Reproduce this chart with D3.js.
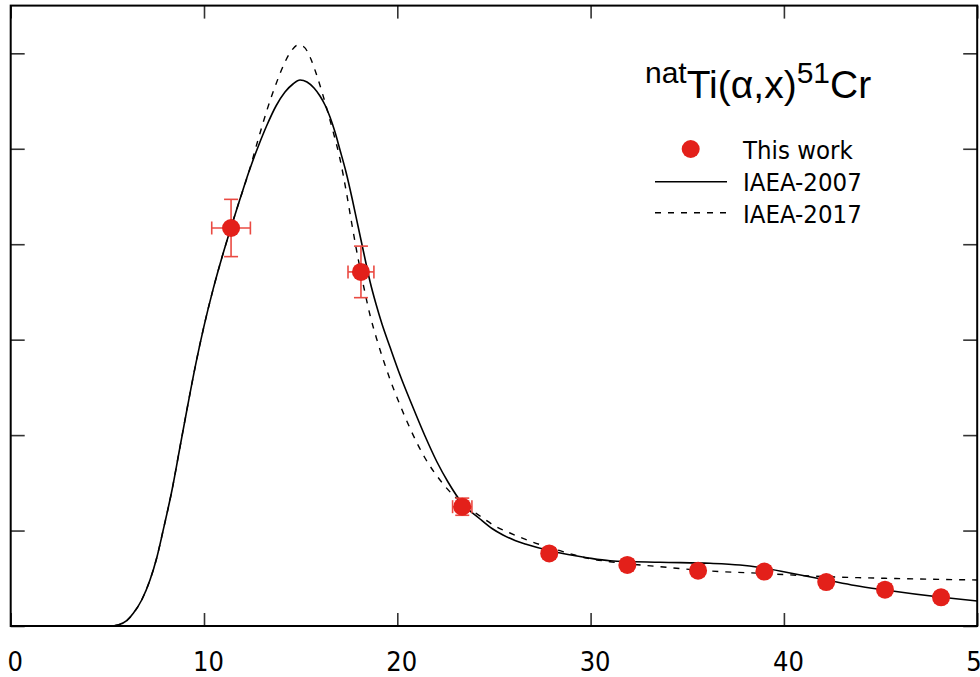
<!DOCTYPE html>
<html>
<head>
<meta charset="utf-8">
<script src="https://cdn.jsdelivr.net/npm/d3@7"></script>
<style>
  html, body { margin: 0; padding: 0; background: #fff; }
  svg { display: block; }
</style>
</head>
<body>
<svg id="chart" width="980" height="677"></svg>
<script>
// Measured excitation function, natTi(α,x)51Cr
const energy    = [11.40, 18.12, 23.36, 27.86, 31.90, 35.56, 38.99, 42.19, 45.23, 48.13];
const xsec      = [417, 371, 125, 76, 64, 58, 57, 46, 38, 30];
const energyErr = [1.0, 0.67, 0.5, 0.3, 0.3, 0.3, 0.3, 0.3, 0.3, 0.3];
const xsecErr   = [30, 27, 9, 4, 4, 4, 4, 4, 4, 4];

// IAEA-2007 recommended curve
const iaea2007E  = [0, 5.137, 5.551, 6.001, 6.343, 6.777, 7.206, 7.553, 7.879, 8.345, 8.758, 9.172, 9.586, 10.0, 10.466, 10.931, 11.397, 11.862, 12.328, 12.794, 13.259, 13.725, 14.19, 14.604, 14.967, 15.329, 15.691, 16.001, 16.26, 16.518, 16.777, 17.036, 17.346, 17.657, 17.967, 18.277, 18.588, 18.898, 19.208, 19.622, 20.14, 20.761, 21.433, 22.054, 22.623, 23.347, 24.279, 24.899, 25.468, 26.089, 26.71, 27.848, 28.831, 29.814, 31.004, 33.59, 36.177, 37.729, 38.764, 40.316, 42.214, 43.678, 45.23, 48.163, 50.0];
const iaea2007Xs = [0, 0, 1.05, 5.55, 13.31, 27.24, 48.19, 71.24, 99.53, 142.49, 187.54, 232.6, 275.7, 314.2, 352.4, 386.3, 417.5, 447.3, 476.2, 501.85, 524.9, 544.81, 559.47, 567.86, 572.05, 569.96, 563.67, 555.29, 545.86, 533.28, 517.57, 498.71, 475.66, 448.42, 419.08, 389.75, 360.97, 337.36, 316.41, 292.31, 262.98, 231.54, 199.07, 171.83, 150.87, 128.87, 112.1, 102.15, 95.34, 89.58, 85.39, 79.1, 74.91, 71.56, 68.42, 66.74, 65.69, 63.91, 61.29, 55.53, 48.19, 42.43, 37.72, 30.07, 26.19];

// IAEA-2017 recommended curve
const iaea2017E  = [0, 5.137, 5.551, 6.001, 6.343, 6.777, 7.206, 7.553, 7.879, 8.345, 8.758, 9.172, 9.586, 10.0, 10.466, 10.931, 11.397, 11.862, 12.328, 12.794, 13.259, 13.725, 14.19, 14.553, 14.863, 15.173, 15.484, 15.794, 16.105, 16.415, 16.726, 17.036, 17.346, 17.657, 17.967, 18.277, 18.588, 18.95, 19.312, 19.674, 20.14, 20.745, 21.433, 22.209, 22.882, 23.554, 24.279, 25.054, 25.83, 26.71, 28.417, 29.798, 31.004, 33.59, 36.177, 38.764, 42.214, 45.23, 50.0];
const iaea2017Xs = [0, 0, 1.05, 5.55, 13.31, 27.24, 48.19, 71.24, 99.53, 142.49, 187.54, 232.6, 275.7, 314.2, 352.4, 386.3, 417.5, 447.3, 476.2, 509.19, 540.62, 567.86, 590.91, 603.48, 608.72, 606.63, 596.15, 579.39, 559.47, 537.47, 514.43, 489.28, 456.8, 420.13, 385.56, 354.12, 325.84, 299.65, 276.6, 255.64, 231.54, 203.26, 176.02, 152.96, 137.25, 125.73, 115.25, 104.77, 97.44, 90.1, 78.89, 71.24, 67.37, 62.13, 57.62, 55.21, 51.65, 49.98, 48.19];

const xTicks = [0, 10, 20, 30, 40, 50];
const yTicks = [0, 100, 200, 300, 400, 500, 600];

const legendLabels = ["This work", "IAEA-2007", "IAEA-2017"];

const svg = d3.select("#chart");
const plotL = 10.7, plotR = 977.2, plotT = 5.6, plotB = 626;

const x = d3.scaleLinear().domain([0, 50]).range([plotL, plotR]);
const y = d3.scaleLinear().domain([0, 650]).range([plotB, plotT]);

const red = "#e3201a";
const errRed = "#ea4a42";

// tick marks on all four sides, pointing inward
function styleTicks(g) {
  g.select(".domain").remove();
  g.selectAll(".tick line").attr("stroke", "#333").attr("stroke-width", 1.6);
}

svg.append("g")
  .attr("transform", `translate(0,${plotB})`)
  .call(d3.axisBottom(x).tickValues(xTicks).tickSize(-13).tickFormat(d3.format("d")))
  .call(styleTicks)
  .call(g => g.selectAll(".tick text")
    .attr("y", 44.5).attr("dy", null).attr("x", 4)
    .attr("fill", "#000")
    .style("font-family", "'DejaVu Sans Condensed', 'DejaVu Sans', sans-serif")
    .style("font-size", "27px"));

svg.append("g")
  .attr("transform", `translate(0,${plotT})`)
  .call(d3.axisTop(x).tickValues(xTicks).tickSize(-13).tickFormat(""))
  .call(styleTicks);

svg.append("g")
  .attr("transform", `translate(${plotL},0)`)
  .call(d3.axisLeft(y).tickValues(yTicks).tickSize(-14).tickFormat(""))
  .call(styleTicks);

svg.append("g")
  .attr("transform", `translate(${plotR},0)`)
  .call(d3.axisRight(y).tickValues(yTicks).tickSize(-14).tickFormat(""))
  .call(styleTicks);

// evaluated curves
const line = d3.line()
  .x(d => x(d[0]))
  .y(d => y(d[1]))
  .curve(d3.curveMonotoneX);

svg.append("path")
  .datum(d3.zip(iaea2007E, iaea2007Xs))
  .attr("d", line)
  .attr("fill", "none")
  .attr("stroke", "#000")
  .attr("stroke-width", 1.6);

svg.append("path")
  .datum(d3.zip(iaea2017E, iaea2017Xs))
  .attr("d", line)
  .attr("fill", "none")
  .attr("stroke", "#000")
  .attr("stroke-width", 1.4)
  .attr("stroke-dasharray", "6,7");

// measured points with error bars
const pts = energy.map((e, i) => ({ e, s: xsec[i], de: energyErr[i], ds: xsecErr[i] }));
const capH = 7, capV = 6.5;
const eb = svg.append("g").attr("stroke", errRed).attr("stroke-width", 1.6).attr("fill", "none");
pts.forEach(p => {
  const cx = x(p.e), cy = y(p.s);
  const x0 = x(p.e - p.de), x1 = x(p.e + p.de);
  const y0 = y(p.s - p.ds), y1 = y(p.s + p.ds);
  eb.append("line").attr("x1", x0).attr("x2", x1).attr("y1", cy).attr("y2", cy);
  eb.append("line").attr("x1", cx).attr("x2", cx).attr("y1", y0).attr("y2", y1);
  eb.append("line").attr("x1", cx - capH).attr("x2", cx + capH).attr("y1", y0).attr("y2", y0);
  eb.append("line").attr("x1", cx - capH).attr("x2", cx + capH).attr("y1", y1).attr("y2", y1);
  eb.append("line").attr("x1", x0).attr("x2", x0).attr("y1", cy - capV).attr("y2", cy + capV);
  eb.append("line").attr("x1", x1).attr("x2", x1).attr("y1", cy - capV).attr("y2", cy + capV);
});

svg.append("g").selectAll("circle")
  .data(pts)
  .join("circle")
  .attr("cx", d => x(d.e))
  .attr("cy", d => y(d.s))
  .attr("r", 9)
  .attr("fill", red);

// frame
svg.append("rect")
  .attr("x", plotL).attr("y", plotT)
  .attr("width", plotR - plotL).attr("height", plotB - plotT)
  .attr("fill", "none").attr("stroke", "#000").attr("stroke-width", 2);

// reaction title
const title = svg.append("text")
  .attr("x", 645).attr("y", 97.5)
  .style("font-family", "'Liberation Sans', Arial, sans-serif")
  .attr("fill", "#000");
title.append("tspan").attr("dy", -15).style("font-size", "30px").text("nat");
title.append("tspan").attr("dy", 15).style("font-size", "39px").text("Ti(α,x)");
title.append("tspan").attr("dy", -15).style("font-size", "30px").text("51");
title.append("tspan").attr("dy", 15).style("font-size", "39px").text("Cr");

// legend
const lg = svg.append("g")
  .style("font-family", "'DejaVu Sans Condensed', 'DejaVu Sans', sans-serif")
  .style("font-size", "25.5px");
lg.append("circle").attr("cx", 690.7).attr("cy", 149).attr("r", 9).attr("fill", red);
lg.append("line").attr("x1", 655).attr("x2", 727).attr("y1", 181.7).attr("y2", 181.7)
  .attr("stroke", "#000").attr("stroke-width", 1.6);
lg.append("line").attr("x1", 655).attr("x2", 727).attr("y1", 212.7).attr("y2", 212.7)
  .attr("stroke", "#000").attr("stroke-width", 1.4).attr("stroke-dasharray", "6,7");
lg.selectAll("text.lab")
  .data(legendLabels)
  .join("text")
  .attr("class", "lab")
  .attr("x", 743)
  .attr("y", (d, i) => 158.5 + i * 32)
  .attr("fill", "#000")
  .text(d => d);
</script>
</body>
</html>
